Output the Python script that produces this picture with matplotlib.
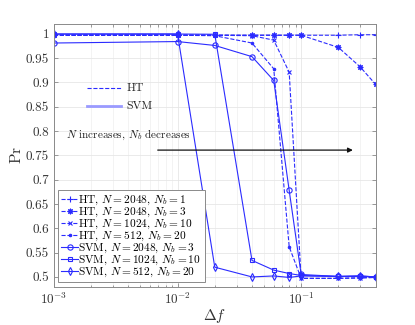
import matplotlib
matplotlib.use("Agg")
import matplotlib.pyplot as plt

plt.rcParams['font.family'] = ['cmr10', 'DejaVu Serif']
plt.rcParams['mathtext.fontset'] = 'cm'
plt.rcParams['axes.unicode_minus'] = False
plt.rcParams['axes.formatter.use_mathtext'] = True

df = [0.001, 0.01, 0.02, 0.04, 0.06, 0.08, 0.1, 0.2, 0.3, 0.4]

ht_2048_1 = [0.997, 0.997, 0.997, 0.997, 0.997, 0.997, 0.997, 0.997, 0.998, 0.998]
ht_2048_3 = [0.997, 0.997, 0.997, 0.997, 0.997, 0.997, 0.997, 0.972, 0.932, 0.896]
ht_1024_10 = [0.997, 0.997, 0.997, 0.996, 0.987, 0.921, 0.497, 0.497, 0.498, 0.499]
ht_512_20 = [0.997, 0.997, 0.996, 0.981, 0.928, 0.562, 0.497, 0.497, 0.498, 0.499]
svm_2048_3 = [0.981, 0.984, 0.976, 0.953, 0.904, 0.678, 0.505, 0.501, 0.502, 0.500]
svm_1024_10 = [0.9995, 0.9995, 0.999, 0.534, 0.514, 0.507, 0.503, 0.501, 0.501, 0.500]
svm_512_20 = [0.9995, 0.9995, 0.520, 0.500, 0.502, 0.499, 0.502, 0.501, 0.502, 0.500]

labels = [r'HT, $N=2048$, $N_b=1$', r'HT, $N=2048$, $N_b=3$',
          r'HT, $N=1024$, $N_b=10$', r'HT, $N=512$, $N_b=20$',
          r'SVM, $N=2048$, $N_b=3$', r'SVM, $N=1024$, $N_b=10$',
          r'SVM, $N=512$, $N_b=20$']

blue = '#2b2bff'
fig = plt.figure(figsize=(4.15, 3.25), dpi=100)
ax = fig.add_axes([0.130, 0.118, 0.775, 0.808])

series = [ht_2048_1, ht_2048_3, ht_1024_10, ht_512_20, svm_2048_3, svm_1024_10, svm_512_20]
markers = ['+', (8, 2, 0), 'x', '.', 'o', 's', 'd']
sizes = [4, 4, 3.5, 3.5, 3.8, 3.5, 3.8]
styles = ['--', '--', '--', '--', '-', '-', '-']
for y, m, ms, ls, lab in zip(series, markers, sizes, styles, labels):
    ax.plot(df, y, ls=ls, marker=m, color=blue, lw=0.8, ms=ms,
            mfc='none' if m in ['o', 's', 'd'] else blue, mew=0.8, label=lab)

ax.set_xscale('log')
ax.set_xlim(1e-3, 0.4)
ax.set_ylim(0.48, 1.02)
ax.set_yticks([0.5, 0.55, 0.6, 0.65, 0.7, 0.75, 0.8, 0.85, 0.9, 0.95, 1.0])
ax.set_yticklabels(['0.5', '0.55', '0.6', '0.65', '0.7', '0.75', '0.8', '0.85', '0.9', '0.95', '1'])
ax.grid(True, which='major', color='#e6e6e6', lw=0.6)
ax.grid(True, which='minor', axis='x', color='#eeeeee', lw=0.5)
ax.set_axisbelow(True)
for s in ax.spines.values():
    s.set_color('#8a8a8a')
    s.set_linewidth(0.7)
ax.tick_params(which='both', direction='in', top=True, right=True, colors='#8a8a8a',
               labelcolor='#333333', labelsize=9.5, width=0.6)
ax.tick_params(which='major', length=3)
ax.tick_params(which='minor', length=1.8)
ax.set_xlabel(r'$\Delta f$', fontsize=11, color='#333333', labelpad=0)
ax.set_ylabel(r'$\mathrm{Pr}$', fontsize=11, color='#333333', labelpad=1)

# inline style key
ax.plot([0.102, 0.208], [0.756, 0.756], transform=ax.transAxes, ls='--', color=blue, lw=0.8)
ax.text(0.226, 0.756, 'HT', transform=ax.transAxes, va='center', ha='left', fontsize=8.5, color='#222222')
ax.plot([0.102, 0.208], [0.688, 0.688], transform=ax.transAxes, ls='-', color='#9a9aff', lw=2.0)
ax.text(0.226, 0.688, 'SVM', transform=ax.transAxes, va='center', ha='left', fontsize=8.5, color='#222222')
ax.text(0.039, 0.577, r'$N$ increases, $N_b$ decreases', transform=ax.transAxes,
        va='center', ha='left', fontsize=8, color='#222222')
ax.annotate('', xy=(0.938, 0.520), xytext=(0.314, 0.520), xycoords='axes fraction',
            arrowprops=dict(arrowstyle='-|>', color='#111111', lw=0.9, mutation_scale=7))

leg = ax.legend(loc='lower left', bbox_to_anchor=(0.005, 0.008), fontsize=8.2,
                handlelength=1.5, handletextpad=0.0, labelspacing=-0.12, borderpad=0.3,
                borderaxespad=0.2, fancybox=False, framealpha=1, edgecolor='#8a8a8a')
leg.get_frame().set_linewidth(0.7)

fig.savefig('out.png', dpi=100)
